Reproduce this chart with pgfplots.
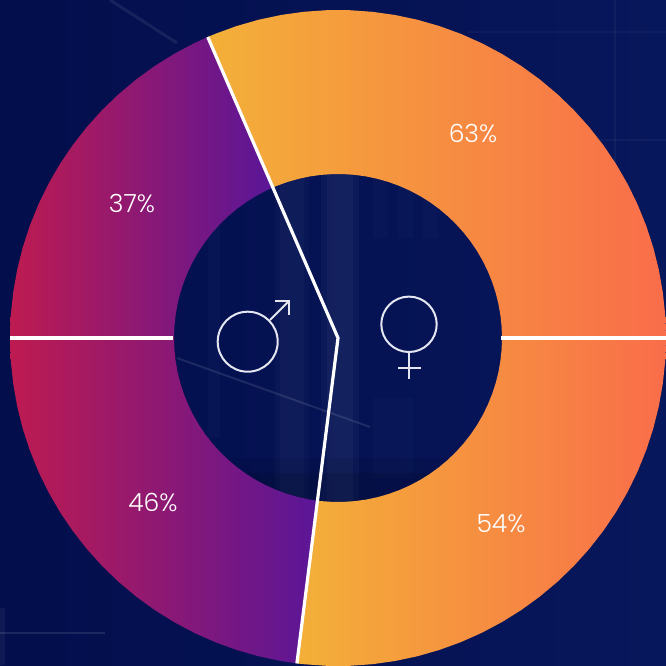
\documentclass[border=0pt]{standalone}
\usepackage{fontspec}
\usepackage{pgfplots}
\pgfplotsset{compat=1.18}
\setmainfont{Poppins Light}
\definecolor{maleL}{HTML}{BE1B50}
\definecolor{maleR}{HTML}{5A1698}
\definecolor{femL}{HTML}{F3B038}
\definecolor{femR}{HTML}{F96D4A}
\definecolor{bgL}{HTML}{030E4C}
\definecolor{bgR}{HTML}{07175B}
\definecolor{gly}{HTML}{E4E6F0}
\begin{document}
\begin{tikzpicture}
\begin{axis}[scale only axis,width=666pt,height=665pt,
  xmin=-338,xmax=328,ymin=-327,ymax=338,hide axis]
% background
\fill[left color=bgL,right color=bgR] (axis cs:-338,-327) rectangle (axis cs:328,338);
\fill[white,opacity=0.025] (axis cs:-63,-165) rectangle (axis cs:-29,188);
\fill[white,opacity=0.025] (axis cs:-58,-165) rectangle (axis cs:-34,188);
\fill[white,opacity=0.03] (axis cs:-17,-165) rectangle (axis cs:21,188);
\fill[white,opacity=0.03] (axis cs:-11,-165) rectangle (axis cs:15,188);
\fill[white,opacity=0.02] (axis cs:-130,-100) rectangle (axis cs:-118,120);
\fill[white,opacity=0.015] (axis cs:35,100) rectangle (axis cs:50,165);
\fill[white,opacity=0.015] (axis cs:60,100) rectangle (axis cs:75,165);
\fill[white,opacity=0.015] (axis cs:85,100) rectangle (axis cs:100,165);
\fill[white,opacity=0.015] (axis cs:35,-140) rectangle (axis cs:75,-60);
\fill[black,opacity=0.10] (axis cs:-160,-170) rectangle (axis cs:160,-135);
\fill[black,opacity=0.08] (axis cs:-160,-170) rectangle (axis cs:160,-120);
\draw[white,opacity=0.10,line width=2pt] (axis cs:-161,-20) -- (axis cs:32,-89);
\draw[white,opacity=0.08,line width=3pt] (axis cs:-228,338) -- (axis cs:-161,295);
\draw[white,opacity=0.04,line width=1.5pt] (axis cs:277,338) -- (axis cs:277,-20);
\draw[white,opacity=0.03,line width=1.5pt] (axis cs:130,306) -- (axis cs:328,306);
\draw[white,opacity=0.03,line width=1.5pt] (axis cs:180,198) -- (axis cs:328,198);
\draw[white,opacity=0.10,line width=2pt] (axis cs:-338,-295) -- (axis cs:-233,-295);
\fill[white,opacity=0.05] (axis cs:-338,-327) rectangle (axis cs:-333,-270);
% male, upper ring, 37 %
\addplot[data cs=polar,draw=none,shade,left color=maleL,right color=maleR] coordinates {
(113.4,328)(116,328)(120,328)(124,328)(128,328)(132,328)(136,328)(140,328)(144,328)(148,328)(152,328)(156,328)(160,328)(164,328)(168,328)(172,328)(176,328)(180,328)
(180,164)(176,164)(172,164)(168,164)(164,164)(160,164)(156,164)(152,164)(148,164)(144,164)(140,164)(136,164)(132,164)(128,164)(124,164)(120,164)(116,164)(113.4,164)};
% female, upper ring, 63 %
\addplot[data cs=polar,draw=none,shade,left color=femL,right color=femR] coordinates {
(0,328)(4,328)(8,328)(12,328)(16,328)(20,328)(24,328)(28,328)(32,328)(36,328)(40,328)(44,328)(48,328)(52,328)(56,328)(60,328)(64,328)(68,328)(72,328)(76,328)(80,328)(84,328)(88,328)(92,328)(96,328)(100,328)(104,328)(108,328)(112,328)(113.4,328)
(113.4,164)(112,164)(108,164)(104,164)(100,164)(96,164)(92,164)(88,164)(84,164)(80,164)(76,164)(72,164)(68,164)(64,164)(60,164)(56,164)(52,164)(48,164)(44,164)(40,164)(36,164)(32,164)(28,164)(24,164)(20,164)(16,164)(12,164)(8,164)(4,164)(0,164)};
% male, lower ring, 46 %
\addplot[data cs=polar,draw=none,shade,left color=maleL,right color=maleR] coordinates {
(180,328)(184,328)(188,328)(192,328)(196,328)(200,328)(204,328)(208,328)(212,328)(216,328)(220,328)(224,328)(228,328)(232,328)(236,328)(240,328)(244,328)(248,328)(252,328)(256,328)(260,328)(262.8,328)
(262.8,164)(260,164)(256,164)(252,164)(248,164)(244,164)(240,164)(236,164)(232,164)(228,164)(224,164)(220,164)(216,164)(212,164)(208,164)(204,164)(200,164)(196,164)(192,164)(188,164)(184,164)(180,164)};
% female, lower ring, 54 %
\addplot[data cs=polar,draw=none,shade,left color=femL,right color=femR] coordinates {
(262.8,328)(264,328)(268,328)(272,328)(276,328)(280,328)(284,328)(288,328)(292,328)(296,328)(300,328)(304,328)(308,328)(312,328)(316,328)(320,328)(324,328)(328,328)(332,328)(336,328)(340,328)(344,328)(348,328)(352,328)(356,328)(360,328)
(360,164)(356,164)(352,164)(348,164)(344,164)(340,164)(336,164)(332,164)(328,164)(324,164)(320,164)(316,164)(312,164)(308,164)(304,164)(300,164)(296,164)(292,164)(288,164)(284,164)(280,164)(276,164)(272,164)(268,164)(264,164)(262.8,164)};
% white dividers
\addplot[data cs=polar,white,line width=3.2pt,line join=miter] coordinates {(113.4,328)(0,0)(262.8,328)};
\addplot[data cs=polar,white,line width=3.2pt] coordinates {(180,328)(180,165)};
\addplot[data cs=polar,white,line width=3.2pt] coordinates {(0,328)(0,163)};
% labels
\node[white] at (axis cs:135,204) {\fontsize{25}{25}\selectfont 63\%};
\node[white] at (axis cs:-206,134) {\fontsize{25}{25}\selectfont 37\%};
\node[white] at (axis cs:-185,-164) {\fontsize{25}{25}\selectfont 46\%};
\node[white] at (axis cs:163,-186) {\fontsize{25}{25}\selectfont 54\%};
% gender symbols
\draw[gly,line width=2pt] (axis cs:-90.3,-3.7) circle[radius=30pt];
\draw[gly,line width=2pt] (axis cs:-68,18) -- (axis cs:-49,37);
\draw[gly,line width=2pt] (axis cs:-63,37) -- (axis cs:-49,37) -- (axis cs:-49,23);
\draw[gly,line width=2pt] (axis cs:71,13.7) circle[radius=27.7pt];
\draw[gly,line width=2pt] (axis cs:71,-14) -- (axis cs:71,-41);
\draw[gly,line width=2pt] (axis cs:60,-30) -- (axis cs:83,-30);
\end{axis}
\end{tikzpicture}
\end{document}
